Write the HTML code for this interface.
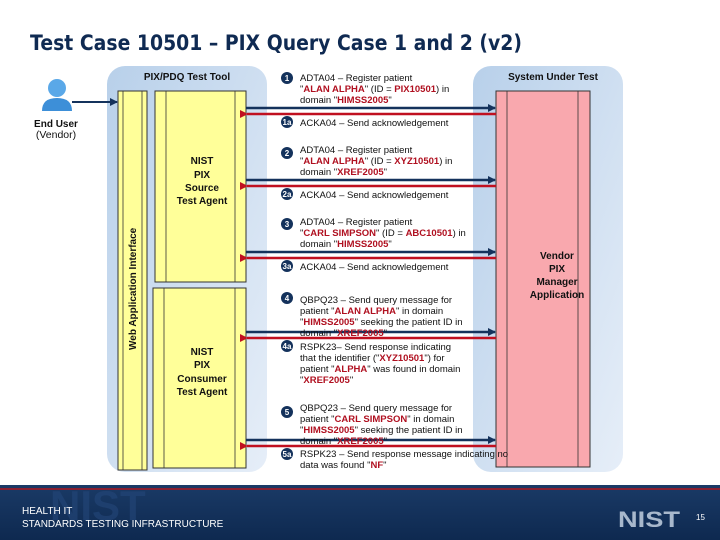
<!DOCTYPE html>
<html><head><meta charset="utf-8"><style>
html,body{margin:0;padding:0;background:#fff;}
svg{display:block;font-family:"Liberation Sans",Arial,sans-serif;}
.t{font-size:9.5px;fill:#111;}
.r{fill:#b01020;font-weight:bold;}
.b{font-weight:bold;font-size:10px;fill:#111;}
.n{font-size:8px;fill:#fff;font-weight:bold;}
</style></head><body>
<svg width="720" height="540" viewBox="0 0 720 540" xmlns="http://www.w3.org/2000/svg">
<defs>
<linearGradient id="pg" x1="0" y1="0" x2="1" y2="1">
<stop offset="0" stop-color="#b8d0ea"/><stop offset="1" stop-color="#e6eef8"/></linearGradient>
<linearGradient id="fg" x1="0" y1="0" x2="0" y2="1">
<stop offset="0" stop-color="#1a3a66"/><stop offset="1" stop-color="#0e2950"/></linearGradient>
<marker id="ab" markerWidth="8" markerHeight="8" refX="7" refY="4" orient="auto" markerUnits="userSpaceOnUse"><path d="M0,0 L8,4 L0,8 z" fill="#14325c"/></marker>
<marker id="ar" markerWidth="8" markerHeight="8" refX="1" refY="4" orient="auto" markerUnits="userSpaceOnUse"><path d="M8,0 L0,4 L8,8 z" fill="#c01020"/></marker>
</defs>
<text x="30" y="50" font-size="21" font-weight="bold" fill="#0f2a52" style="font-family:'DejaVu Sans',sans-serif" textLength="492" lengthAdjust="spacingAndGlyphs">Test Case 10501 – PIX Query Case 1 and 2 (v2)</text>
<!-- panels -->
<rect x="107" y="66" width="160" height="406" rx="18" fill="url(#pg)"/>
<rect x="473" y="66" width="150" height="406" rx="18" fill="url(#pg)"/>
<text x="187" y="80" text-anchor="middle" class="b">PIX/PDQ Test Tool</text>
<text x="553" y="80" text-anchor="middle" class="b">System Under Test</text>
<!-- web app bar -->
<rect x="118" y="91" width="29" height="379" fill="#ffff99" stroke="#333" stroke-width="1"/>
<line x1="123" y1="91" x2="123" y2="470" stroke="#333" stroke-width="0.8"/>
<line x1="142" y1="91" x2="142" y2="470" stroke="#333" stroke-width="0.8"/>
<text transform="translate(136,350) rotate(-90)" class="b" font-size="10.5">Web Application Interface</text>
<!-- source agent -->
<rect x="155" y="91" width="91" height="191" fill="#ffff99" stroke="#333"/>
<line x1="166" y1="91" x2="166" y2="282" stroke="#333" stroke-width="0.8"/>
<line x1="235" y1="91" x2="235" y2="282" stroke="#333" stroke-width="0.8"/>
<g class="b" text-anchor="middle"><text x="202" y="164">NIST</text><text x="202" y="178">PIX</text><text x="202" y="191">Source</text><text x="202" y="204">Test Agent</text></g>
<!-- consumer -->
<rect x="153" y="288" width="93" height="180" fill="#ffff99" stroke="#333"/>
<line x1="164" y1="288" x2="164" y2="468" stroke="#333" stroke-width="0.8"/>
<line x1="235" y1="288" x2="235" y2="468" stroke="#333" stroke-width="0.8"/>
<g class="b" text-anchor="middle"><text x="202" y="355">NIST</text><text x="202" y="368">PIX</text><text x="202" y="382">Consumer</text><text x="202" y="395">Test Agent</text></g>
<!-- vendor -->
<rect x="496" y="91" width="94" height="376" fill="#f9a8ae" stroke="#333"/>
<line x1="507" y1="91" x2="507" y2="467" stroke="#333" stroke-width="0.8"/>
<line x1="578" y1="91" x2="578" y2="467" stroke="#333" stroke-width="0.8"/>
<g class="b" text-anchor="middle"><text x="557" y="259">Vendor</text><text x="557" y="272">PIX</text><text x="557" y="285">Manager</text><text x="557" y="298">Application</text></g>
<!-- user -->
<circle cx="57" cy="88" r="9" fill="#5aa8e8"/>
<path d="M42,111 Q42,98 57,98 Q72,98 72,111 z" fill="#3d8fd8"/>
<text x="56" y="127" text-anchor="middle" class="b" font-size="10.5">End User</text>
<text x="56" y="138" text-anchor="middle" font-size="10.5" fill="#111">(Vendor)</text>
<line x1="72" y1="102" x2="117" y2="102" stroke="#14325c" stroke-width="2" marker-end="url(#ab)"/>
<!-- arrows -->
<g stroke-width="2.5">
<line x1="246" y1="108" x2="495" y2="108" stroke="#14325c" marker-end="url(#ab)"/>
<line x1="496" y1="114" x2="247" y2="114" stroke="#c01020" marker-end="url(#ar)"/>
<line x1="246" y1="180" x2="495" y2="180" stroke="#14325c" marker-end="url(#ab)"/>
<line x1="496" y1="186" x2="247" y2="186" stroke="#c01020" marker-end="url(#ar)"/>
<line x1="246" y1="252" x2="495" y2="252" stroke="#14325c" marker-end="url(#ab)"/>
<line x1="496" y1="258" x2="247" y2="258" stroke="#c01020" marker-end="url(#ar)"/>
<line x1="246" y1="332" x2="495" y2="332" stroke="#14325c" marker-end="url(#ab)"/>
<line x1="496" y1="338" x2="247" y2="338" stroke="#c01020" marker-end="url(#ar)"/>
<line x1="246" y1="440" x2="495" y2="440" stroke="#14325c" marker-end="url(#ab)"/>
<line x1="496" y1="446" x2="247" y2="446" stroke="#c01020" marker-end="url(#ar)"/>
</g>
<!-- badges -->
<g fill="#14325c">
<circle cx="287" cy="78" r="6"/><circle cx="287" cy="122" r="6"/><circle cx="287" cy="153" r="6"/><circle cx="287" cy="194" r="6"/>
<circle cx="287" cy="224" r="6"/><circle cx="287" cy="266" r="6"/><circle cx="287" cy="298" r="6"/><circle cx="287" cy="346" r="6"/>
<circle cx="287" cy="412" r="6"/><circle cx="287" cy="454" r="6"/>
</g>
<g class="n" text-anchor="middle">
<text x="287" y="81">1</text><text x="287" y="125">1a</text><text x="287" y="156">2</text><text x="287" y="197">2a</text>
<text x="287" y="227">3</text><text x="287" y="269">3a</text><text x="287" y="301">4</text><text x="287" y="349">4a</text>
<text x="287" y="415">5</text><text x="287" y="457">5a</text>
</g>
<g class="t">
<text x="300" y="81">ADTA04 – Register patient</text>
<text x="300" y="92">"<tspan class="r">ALAN ALPHA</tspan>" (ID = <tspan class="r">PIX10501</tspan>) in</text>
<text x="300" y="103">domain "<tspan class="r">HIMSS2005</tspan>"</text>
<text x="300" y="126">ACKA04 – Send acknowledgement</text>
<text x="300" y="153">ADTA04 – Register patient</text>
<text x="300" y="164">"<tspan class="r">ALAN ALPHA</tspan>" (ID = <tspan class="r">XYZ10501</tspan>) in</text>
<text x="300" y="175">domain "<tspan class="r">XREF2005</tspan>"</text>
<text x="300" y="198">ACKA04 – Send acknowledgement</text>
<text x="300" y="225">ADTA04 – Register patient</text>
<text x="300" y="236">"<tspan class="r">CARL SIMPSON</tspan>" (ID = <tspan class="r">ABC10501</tspan>) in</text>
<text x="300" y="247">domain "<tspan class="r">HIMSS2005</tspan>"</text>
<text x="300" y="270">ACKA04 – Send acknowledgement</text>
<text x="300" y="303">QBPQ23 – Send query message for</text>
<text x="300" y="314">patient "<tspan class="r">ALAN ALPHA</tspan>" in domain</text>
<text x="300" y="325">"<tspan class="r">HIMSS2005</tspan>" seeking the patient ID in</text>
<text x="300" y="336">domain "<tspan class="r">XREF2005</tspan>"</text>
<text x="300" y="350">RSPK23– Send response indicating</text>
<text x="300" y="361">that the identifier ("<tspan class="r">XYZ10501</tspan>") for</text>
<text x="300" y="372">patient "<tspan class="r">ALPHA</tspan>" was found in domain</text>
<text x="300" y="383">"<tspan class="r">XREF2005</tspan>"</text>
<text x="300" y="411">QBPQ23 – Send query message for</text>
<text x="300" y="422">patient "<tspan class="r">CARL SIMPSON</tspan>" in domain</text>
<text x="300" y="433">"<tspan class="r">HIMSS2005</tspan>" seeking the patient ID in</text>
<text x="300" y="444">domain "<tspan class="r">XREF2005</tspan>"</text>
<text x="300" y="457">RSPK23 – Send response message indicating no</text>
<text x="300" y="468">data was found "<tspan class="r">NF</tspan>"</text>
</g>
<!-- footer -->
<rect x="0" y="485" width="720" height="55" fill="url(#fg)"/>
<rect x="0" y="488" width="720" height="2" fill="#8a2030"/>
<text x="50" y="520" font-size="42" font-weight="bold" fill="#24477a" opacity="0.6">NIST</text>
<text x="22" y="514" font-size="10" fill="#fff">HEALTH IT</text>
<text x="22" y="527" font-size="10" fill="#fff">STANDARDS TESTING INFRASTRUCTURE</text>
<text x="618" y="527" font-size="22" font-weight="bold" fill="#a8b8cc" textLength="62" lengthAdjust="spacingAndGlyphs">NIST</text>
<text x="696" y="520" font-size="8" fill="#fff">15</text>
</svg>
</body></html>
